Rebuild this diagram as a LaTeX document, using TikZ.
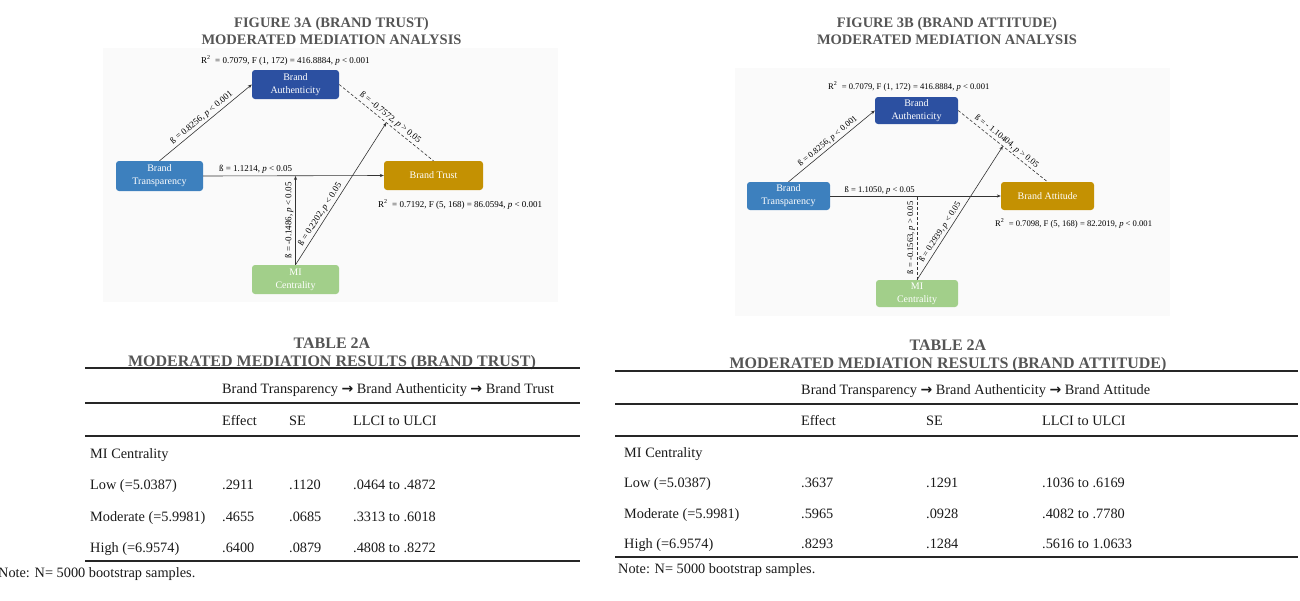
\documentclass[tikz,border=0pt]{standalone}
\usepackage{fontspec}
\setmainfont{Liberation Serif}
\newfontfamily\arrowfont{DejaVu Sans}
\usetikzlibrary{arrows.meta,calc,positioning}
\definecolor{authblue}{HTML}{2C50A1}
\definecolor{transblue}{HTML}{3D80BE}
\definecolor{trustgold}{HTML}{C49102}
\definecolor{migreen}{HTML}{A2CF8A}
\definecolor{titlegray}{HTML}{555555}
\definecolor{linegray}{HTML}{333333}
\definecolor{panelgray}{HTML}{FAFAFA}
\newcommand{\tarrow}{{\arrowfont\bfseries\fontsize{14}{16}\selectfont →}}

\begin{document}
\begin{tikzpicture}[x=1pt,y=-1pt]
\tikzset{varbox/.style={rounded corners=3pt, text=white, align=center, inner sep=0pt, font=\fontsize{10}{13}\selectfont},
  lab/.style={font=\fontsize{9}{10}\selectfont, inner sep=1.8pt},
  labB/.style={lab, font=\fontsize{8.6}{10}\selectfont},
  conn/.style={draw=linegray, line width=0.6pt},
  tip/.style={-{Stealth[length=4pt,width=3.2pt]}},
  dash3/.style={dash pattern=on 3pt off 2pt},
  figtitle/.style={align=center, text=titlegray, font=\fontsize{14.5}{16.5}\selectfont\bfseries},
  tabtitle/.style={align=center, text=titlegray, font=\fontsize{16}{18}\selectfont\bfseries},
  cell/.style={anchor=mid west, inner sep=0pt, yshift=-3pt, text=black!90, font=\fontsize{14.3}{16}\selectfont},
  rule/.style={line width=1.6pt, black!85}}
\useasboundingbox (0,0) rectangle (1300,600);

% light panels behind the two figures
\fill[panelgray] (103,48) rectangle (558,302);
\fill[panelgray] (735,68) rectangle (1170,316);

% figure 3A
\node[figtitle] (titA) at (331.5,31) {FIGURE 3A (BRAND TRUST)\\MODERATED MEDIATION ANALYSIS};
\node[varbox, fill=authblue, minimum width=87pt, minimum height=29pt] (Aa) at (295.5,84.5) {Brand\\Authenticity};
\node[varbox, fill=transblue, minimum width=87pt, minimum height=30pt] (Ta) at (159.5,176) {Brand\\Transparency};
\node[varbox, fill=trustgold, minimum width=99pt, minimum height=29pt] (Ba) at (433.5,175.5) {Brand Trust};
\node[varbox, fill=migreen, minimum width=87pt, minimum height=29pt] (Ma) at (295.5,279.5) {MI\\Centrality};
\node[lab, anchor=mid west, inner sep=0pt] (r2a) at (201,61) {R\textsuperscript{2}~ = 0.7079, F (1, 172) = 416.8884, \textit{p} < 0.001};
\node[lab, anchor=mid west, inner sep=0pt] (r2b) at (378,205) {R\textsuperscript{2}~ = 0.7192, F (5, 168) = 86.0594, \textit{p} < 0.001};
\coordinate (ja) at (Ma.north |- Ta.east);
\coordinate (ka) at ($(Aa.east)!0.5!(Ba.north)$);
\draw[conn, tip] (Ta.north) -- node[lab, sloped, above] {ß = 0.8256, \textit{p} < 0.001} (Aa.west);
\draw[conn, dash3] (Aa.east) -- node[lab, sloped, above] {ß = -0.7572, \textit{p} > 0.05} (Ba.north);
\draw[conn, tip] (Ta.east) -- node[lab, above, pos=0.29] {ß = 1.1214, \textit{p} < 0.05} (Ba.west);
\draw[conn, tip] (Ma.north) -- node[lab, sloped, above] {ß = -0.1486, \textit{p} < 0.05} (ja);
\draw[conn, tip] (Ma.north) -- node[lab, sloped, above, pos=0.33] {ß = 0.2202, \textit{p} < 0.05} (ka);

% figure 3B
\node[figtitle] (titB) at (947,31) {FIGURE 3B (BRAND ATTITUDE)\\MODERATED MEDIATION ANALYSIS};
\node[varbox, fill=authblue, minimum width=83pt, minimum height=27pt] (Ab) at (916.5,110.5) {Brand\\Authenticity};
\node[varbox, fill=transblue, minimum width=83pt, minimum height=28pt] (Tb) at (788.5,196) {Brand\\Transparency};
\node[varbox, fill=trustgold, minimum width=93pt, minimum height=28pt] (Bb) at (1047.5,196) {Brand Attitude};
\node[varbox, fill=migreen, minimum width=82pt, minimum height=27pt] (Mb) at (917,293.5) {MI\\Centrality};
\node[labB, anchor=mid west, inner sep=0pt] (r2c) at (828,87) {R\textsuperscript{2}~ = 0.7079, F (1, 172) = 416.8884, \textit{p} < 0.001};
\node[labB, anchor=mid west, inner sep=0pt] (r2d) at (995,224) {R\textsuperscript{2}~ = 0.7098, F (5, 168) = 82.2019, \textit{p} < 0.001};
\coordinate (jb) at (Mb.north |- Tb.east);
\coordinate (kb) at ($(Ab.east)!0.5!(Bb.north)$);
\draw[conn, tip] (Tb.north) -- node[labB, sloped, above] {ß = 0.8256, \textit{p} < 0.001} (Ab.west);
\draw[conn, dash3] (Ab.east) -- node[labB, sloped, above] {ß = - 1.10404, \textit{p} > 0.05} (Bb.north);
\draw[conn, tip] (Tb.east) -- node[labB, above, pos=0.29] {ß = 1.1050, \textit{p} < 0.05} (Bb.west);
\draw[conn, dash3] (Mb.north) -- node[labB, sloped, above] {ß = -0.1563, \textit{p} > 0.05} (jb);
\draw[conn, tip] (Mb.north) -- node[labB, sloped, above, pos=0.33] {ß = 0.2939, \textit{p} < 0.05} (kb);

% table 2A, brand trust
\node[tabtitle] (tabA) at (332,354) {TABLE 2A\\MODERATED MEDIATION RESULTS (BRAND TRUST)};
\foreach \y in {368,403,436,561}
  \draw[rule] (85,\y) -- (580,\y);
\node[cell] (pathA) at (222,388) {Brand Transparency \tarrow{} Brand Authenticity \tarrow{} Brand Trust};
\node[cell] (effA) at (222,420) {Effect};
\node[cell] (seA) at (289,420) {SE};
\node[cell] (ciA) at (353,420) {LLCI to ULCI};
\node[cell] (miA) at (90,453) {MI Centrality};
\foreach \y/\lo/\ef/\se/\ci in {484/Low (=5.0387)/.2911/.1120/.0464 to .4872,
    516/Moderate (=5.9981)/.4655/.0685/.3313 to .6018,
    547/High (=6.9574)/.6400/.0879/.4808 to .8272}
{
  \node[cell] (la-\y) at (90,\y) {\lo};
  \node[cell] (ea-\y) at (222,\y) {\ef};
  \node[cell] (sa-\y) at (289,\y) {\se};
  \node[cell] (ca-\y) at (353,\y) {\ci};
}
\node[cell] (noteA) at (-2,572) {Note: N= 5000 bootstrap samples.};

% table 2A, brand attitude
\node[tabtitle] (tabB) at (948,355.5) {TABLE 2A\\MODERATED MEDIATION RESULTS (BRAND ATTITUDE)};
\foreach \y in {371,404,436,557}
  \draw[rule] (615,\y) -- (1298,\y);
\node[cell] (pathB) at (801,389) {Brand Transparency \tarrow{} Brand Authenticity \tarrow{} Brand Attitude};
\node[cell] (effB) at (801,420) {Effect};
\node[cell] (seB) at (926,420) {SE};
\node[cell] (ciB) at (1042,420) {LLCI to ULCI};
\node[cell] (miB) at (624,452) {MI Centrality};
\foreach \y/\lo/\ef/\se/\ci in {482/Low (=5.0387)/.3637/.1291/.1036 to .6169,
    513/Moderate (=5.9981)/.5965/.0928/.4082 to .7780,
    543/High (=6.9574)/.8293/.1284/.5616 to 1.0633}
{
  \node[cell] (lb-\y) at (624,\y) {\lo};
  \node[cell] (eb-\y) at (801,\y) {\ef};
  \node[cell] (sb-\y) at (926,\y) {\se};
  \node[cell] (cb-\y) at (1042,\y) {\ci};
}
\node[cell] (noteB) at (618,568) {Note: N= 5000 bootstrap samples.};
\end{tikzpicture}
\end{document}
